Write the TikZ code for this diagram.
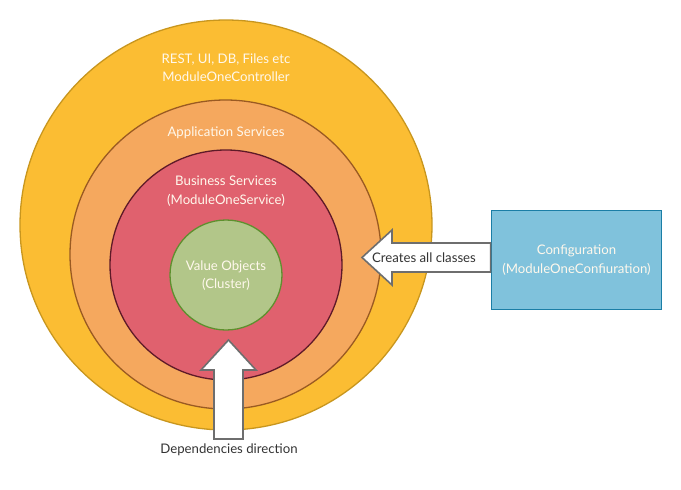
\documentclass[tikz,border=0pt]{standalone}
\usepackage{fontspec}
\setmainfont{Lato}
\usetikzlibrary{shapes.geometric}
\definecolor{yel}{HTML}{FBBD33}
\definecolor{yelD}{HTML}{C8961E}
\definecolor{ora}{HTML}{F5A85E}
\definecolor{oraD}{HTML}{9A5A22}
\definecolor{redc}{HTML}{E0616E}
\definecolor{redD}{HTML}{5E1A28}
\definecolor{grn}{HTML}{B2C689}
\definecolor{grnD}{HTML}{5E902E}
\definecolor{blu}{HTML}{80C2DC}
\definecolor{bluD}{HTML}{1B7EA6}
\definecolor{txtL}{HTML}{FFF8EC}
\definecolor{txtD}{HTML}{333333}
\definecolor{arrD}{HTML}{6E6E6E}
\tikzset{
  ring/.style={ellipse, draw, line width=1.3pt, inner sep=0pt},
  lbl/.style={text=txtL, align=center, font=\fontsize{13.2}{18.5}\selectfont},
  dlbl/.style={text=txtD, align=center, font=\fontsize{13.2}{18.5}\selectfont},
  blockarrow/.style={draw=arrD, fill=white, line width=1.6pt, line join=miter}
}
\begin{document}
\begin{tikzpicture}[x=1pt,y=-1pt]
\useasboundingbox (0,0) rectangle (681,490);
\node[ring, fill=yel, draw=yelD, minimum width=412pt, minimum height=410pt] (outer) at (226,225) {};
\node[ring, fill=ora, draw=oraD, minimum width=311pt, minimum height=309pt] (app) at (225.5,254.5) {};
\node[ring, fill=redc, draw=redD, minimum width=232pt, minimum height=230pt] (bus) at (226,265) {};
\node[ring, fill=grn, draw=grnD, minimum width=112pt, minimum height=110pt] (val) at (226,275) {};
\node[lbl] (t1) at (226,67.5) {REST, UI, DB, Files etc\\ModuleOneController};
\node[lbl] (t2) at (226,133) {Application Services};
\node[lbl] (t3) at (226,191) {Business Services\\(ModuleOneService)};
\node[lbl] (t4) at (226,275.5) {Value Objects\\(Cluster)};
\node[draw=bluD, fill=blu, line width=1.8pt, minimum width=170pt, minimum height=99pt, inner sep=0pt] (cfg) at (576.5,260) {};
\node[lbl] (t5) at (cfg.center) {Configuration\\(ModuleOneConfiuration)};
% creates arrow
\coordinate (ctip) at (362,257.5);
\coordinate (cend) at (cfg.west);
\draw[blockarrow] (ctip) -- (392,230) -- (392,243) -- (cend |- 0,243) -- (cend |- 0,272) -- (392,272) -- (392,285) -- cycle;
\node[dlbl] (t6) at (424,257.5) {Creates all classes};
% dependencies arrow
\coordinate (dtip) at (228.5,340);
\node[dlbl] (t7) at (229,450) {Dependencies direction};
\draw[blockarrow] (dtip) -- (256,370) -- (243,370) -- (243,439) -- (214,439) -- (214,370) -- (201,370) -- cycle;
\end{tikzpicture}
\end{document}
